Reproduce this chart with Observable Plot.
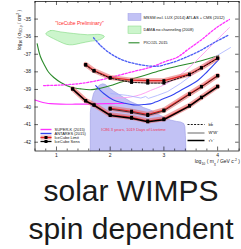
<!DOCTYPE html>
<html><head><meta charset="utf-8">
<script src="https://cdn.jsdelivr.net/npm/d3@7"></script>
<script src="https://cdn.jsdelivr.net/npm/@observablehq/plot@0.6"></script>
<style>
body{margin:0;background:#fff;width:241px;height:249px;overflow:hidden;font-family:"Liberation Sans",Arial,sans-serif}
#chart svg{display:block}
#cap{font-size:30px;line-height:37.7px;color:#1a1a1a;text-align:center;padding-left:21px;width:220px;margin-top:-4px;white-space:nowrap}
</style></head><body><div id="chart"></div><div id="cap">solar WIMPS<br>spin dependent</div>
<script>
// ---- axes ----
const xDomain = [0.6, 4.4];
const yDomain = [-42.5, -34];
const xMajorTicks = [1, 2, 3, 4];
const xMinorTicks = [0.6,0.8,1.2,1.4,1.6,1.8,2.2,2.4,2.6,2.8,3.2,3.4,3.6,3.8,4.2,4.4];
const yTicks = [-42, -41, -40, -39, -38, -37, -36, -35];

// ---- PICO2L 2015 ----
const pico_m = [0.64,0.70,0.78,0.85,0.95,1.08,1.26,1.45,1.63,1.82,2.01,2.19,2.57,2.94,3.31,3.68,4.02];
const pico_s = [-36.40,-37.13,-37.64,-38.01,-38.32,-38.60,-38.86,-38.97,-39.02,-38.93,-38.78,-38.59,-38.26,-37.92,-37.64,-37.38,-37.07];
// ---- DAMA region ----
const dama_m = [0.80,0.89,1.08,1.32,1.58,1.82,1.89,1.80,1.63,1.45,1.30,1.19,1.08,0.95,0.85];
const dama_s = [-35.84,-35.65,-35.73,-35.82,-35.89,-35.88,-35.99,-36.18,-36.26,-36.37,-36.46,-36.44,-36.31,-36.12,-35.96];
// ---- MSSM region ----
const mssm_m = [1.63,1.63,1.65,1.69,1.75,1.80,1.86,1.91,1.99,2.06,2.15,2.27,2.38,2.51,2.62,2.75,2.84,2.94,3.03,3.12,3.24,3.31,3.37,3.39,3.40,3.41];
const mssm_s = [-42.5,-40.31,-39.74,-39.23,-38.92,-38.75,-38.68,-38.72,-38.92,-39.09,-39.26,-39.49,-39.69,-39.86,-40.03,-40.17,-40.31,-40.48,-40.62,-40.74,-40.82,-40.85,-40.94,-41.11,-41.62,-42.5];
// ---- SUPER-K (2015) ----
const sk_tau_m = [0.60,0.70,0.80,0.89,1.08,1.35,1.63,1.91,2.10,2.30];
const sk_tau_s = [-39.60,-39.70,-39.77,-39.81,-39.84,-39.84,-39.83,-39.81,-39.80,-39.80];
const sk_bb_m = [0.76,1.08,1.45,1.82,2.14,2.47,2.75,3.03,3.25,3.46,3.68,3.96,4.22];
const sk_bb_s = [-38.78,-38.75,-38.66,-38.46,-38.21,-37.95,-37.74,-37.41,-37.17,-36.70,-36.22,-35.53,-35.02];
const sk_ww_m = [1.86,2.10,2.38,2.57,2.75,2.94,3.12,3.31,3.50,3.68,3.96,4.22];
const sk_ww_s = [-39.51,-39.49,-39.43,-39.29,-39.06,-38.83,-38.55,-38.15,-37.67,-37.13,-36.27,-35.48];
// ---- ANTARES (2015) ----
const an_bb_m = [1.69,1.82,2.01,2.25,2.57,2.88,3.07,3.18,3.42,3.68,3.94,4.19];
const an_bb_s = [-36.06,-36.50,-36.97,-37.35,-37.60,-37.68,-37.54,-37.45,-37.16,-36.79,-36.33,-35.93];
const an_tau_m = [1.73,1.88,2.06,2.25,2.43,2.62,2.75,2.84,2.99,3.12,3.31,3.63,3.81,4.02];
const an_tau_s = [-38.78,-39.23,-39.60,-39.77,-39.88,-39.86,-39.82,-39.72,-39.53,-39.37,-39.06,-38.49,-37.98,-37.31];
const an_ww_m = [2.01,2.32,2.57,2.66,2.71,2.88,3.07,3.31,3.68,3.96,4.24];
const an_ww_s = [-39.23,-39.34,-39.49,-39.40,-39.51,-39.34,-39.12,-38.66,-37.81,-37.13,-36.62];
// ---- IceCube IC86 3 years ----
const ic_bb_m = [1.544,1.699,2.0,2.398,2.699,3.0,3.477,3.699,4.0];
const ic_bb_lim = [-37.58,-37.92,-38.32,-38.47,-38.50,-38.50,-38.13,-37.76,-37.21];
const ic_bb_sen = [-37.62,-37.96,-38.36,-38.60,-38.64,-38.64,-38.16,-37.78,-37.23];
const ic_ww_m = [2.0,2.398,2.699,3.0,3.477,3.699,4.0];
const ic_ww_lim = [-40.07,-40.24,-40.42,-40.17,-39.25,-38.83,-38.21];
const ic_ww_sen = [-40.12,-40.30,-40.48,-40.22,-39.28,-38.86,-38.23];
const ic_tau_m = [1.301,1.544,1.699,2.0,2.398,2.699,3.0,3.477,3.699,4.0];
const ic_tau_lim = [-38.96,-39.63,-39.87,-40.44,-40.59,-40.79,-40.67,-39.91,-39.44,-38.82];
const ic_tau_sen = [-38.98,-39.66,-39.90,-40.48,-40.64,-40.84,-40.72,-39.95,-39.47,-38.85];

// ---- texts ----
const topLegendLabels = ["MSSM incl. LUX (2014) ATLAS + CMS (2012)", "DAMA no channeling (2008)", "PICO2L 2015"];
const bottomLegendLabels = ["SUPER-K (2015)", "ANTARES (2015)", "IceCube Limit", "IceCube Sens"];
const channelLabels = ["bb\u0304", "W\u207AW\u207B", "\u03C4\u207A\u03C4\u207B"];
const prelimText = "\"IceCube Preliminary\"";
const livetimeText = "IC86 3 years, 1019 Days of Livetime";

// ---- layout (pixels) ----
const W = 241, H = 176, mL = 34.5, mR = 2.4, mT = 1, mB = 25.5;
const px2x = p => xDomain[0] + (p - mL) / (W - mL - mR) * (xDomain[1] - xDomain[0]);
const px2y = p => yDomain[1] - (p - mT) / (H - mT - mB) * (yDomain[1] - yDomain[0]);
const lenX = l => l / (W - mL - mR) * (xDomain[1] - xDomain[0]);
const lenY = l => l / (H - mT - mB) * (yDomain[1] - yDomain[0]);
const zip = (m, s) => m.map((v, i) => ({m: v, s: s[i]}));

const C = {
  mssmFill: "#c2c2f5", mssmStroke: "#9c9ce6", damaFill: "#ccf5cc", damaStroke: "#80d880",
  pico: "#2a8a2a", magenta: "#ff33ff", pink: "#ff99f0", blue: "#3344f0", blueDash: "#4a5cf5", paleBlue: "#a8b0ff",
  band: "#e86a6a", red: "#e02020"
};

const icCurves = [
  {m: ic_bb_m, lim: ic_bb_lim, sen: ic_bb_sen, dash: "2,1.3", w: 0.9},
  {m: ic_ww_m, lim: ic_ww_lim, sen: ic_ww_sen, dash: null, w: 0.7},
  {m: ic_tau_m, lim: ic_tau_lim, sen: ic_tau_sen, dash: null, w: 1.5}
];

const marks = [];
// regions
marks.push(Plot.line(zip(mssm_m, mssm_s), {x: "m", y: "s", fill: C.mssmFill, stroke: C.mssmStroke, strokeWidth: 0.6}));
marks.push(Plot.line(zip(dama_m, dama_s), {x: "m", y: "s", fill: C.damaFill, stroke: C.damaStroke, strokeWidth: 0.6, curve: "catmull-rom-closed"}));
// other experiments
marks.push(Plot.line(zip(pico_m, pico_s), {x: "m", y: "s", stroke: C.pico, strokeWidth: 1.1, curve: "catmull-rom"}));
marks.push(Plot.line(zip(sk_tau_m, sk_tau_s), {x: "m", y: "s", stroke: C.magenta, strokeWidth: 1.2, curve: "catmull-rom"}));
marks.push(Plot.line(zip(sk_ww_m, sk_ww_s), {x: "m", y: "s", stroke: C.pink, strokeWidth: 0.9, curve: "catmull-rom"}));
marks.push(Plot.line(zip(sk_bb_m, sk_bb_s), {x: "m", y: "s", stroke: C.magenta, strokeWidth: 1.3, strokeDasharray: "2,1.6", curve: "catmull-rom"}));
marks.push(Plot.line(zip(an_ww_m, an_ww_s), {x: "m", y: "s", stroke: C.paleBlue, strokeWidth: 0.8}));
marks.push(Plot.line(zip(an_tau_m, an_tau_s), {x: "m", y: "s", stroke: C.blue, strokeWidth: 1.1, curve: "catmull-rom"}));
marks.push(Plot.line(zip(an_bb_m, an_bb_s), {x: "m", y: "s", stroke: C.blueDash, strokeWidth: 1.3, strokeDasharray: "2,1.6", curve: "catmull-rom"}));
// IceCube
for (const c of icCurves) marks.push(Plot.line(zip(c.m, c.lim), {x: "m", y: "s", stroke: C.band, strokeOpacity: 0.6, strokeWidth: 5}));
for (const c of icCurves) marks.push(Plot.line(zip(c.m, c.lim), {x: "m", y: "s", stroke: C.red, strokeWidth: 1.1}));
for (const c of icCurves) marks.push(Plot.line(zip(c.m, c.sen), {x: "m", y: "s", stroke: "#000", strokeWidth: c.w, strokeDasharray: c.dash}));
for (const c of icCurves) {
  marks.push(Plot.dot(zip(c.m, c.lim), {x: "m", y: "s", symbol: "square", r: 1.7, fill: "#000"}));
  marks.push(Plot.dot(zip(c.m, c.sen), {x: "m", y: "s", symbol: "square", r: 1.7, fill: "#000"}));
}
// annotations
marks.push(Plot.text([prelimText], {x: px2x(79), y: px2y(22.7), text: d => d, fill: "#ff2a2a", fontSize: 5, textAnchor: "middle"}));
marks.push(Plot.text([livetimeText], {x: px2x(133), y: px2y(129), text: d => d, fill: "#ee3355", fontSize: 4, textAnchor: "middle"}));

// top-right legend
const tlY = [17, 29.7, 42.3];
marks.push(Plot.rect([0], {x1: px2x(128), x2: px2x(141), y1: px2y(20.5), y2: px2y(13.5), fill: C.mssmFill, stroke: C.mssmStroke, strokeWidth: 0.5}));
marks.push(Plot.rect([0], {x1: px2x(128), x2: px2x(141), y1: px2y(33.3), y2: px2y(26), fill: C.damaFill, stroke: C.damaStroke, strokeWidth: 0.5}));
marks.push(Plot.link([0], {x1: px2x(128), x2: px2x(139), y1: px2y(42.3), y2: px2y(42.3), stroke: C.pico, strokeWidth: 1.1}));
marks.push(Plot.text(topLegendLabels, {x: px2x(143), y: (d, i) => px2y(tlY[i]), text: d => d, fontSize: 4, textAnchor: "start", fill: "#111"}));

// bottom-left legend
const blY = [129, 133, 137, 141];
marks.push(Plot.link([0], {x1: px2x(40), x2: px2x(51), y1: px2y(blY[0]), y2: px2y(blY[0]), stroke: C.magenta, strokeWidth: 1.4}));
marks.push(Plot.link([0], {x1: px2x(40), x2: px2x(51), y1: px2y(blY[1]), y2: px2y(blY[1]), stroke: C.blue, strokeWidth: 1.4}));
marks.push(Plot.link([0], {x1: px2x(40), x2: px2x(51), y1: px2y(blY[2]), y2: px2y(blY[2]), stroke: C.band, strokeOpacity: 0.6, strokeWidth: 4}));
marks.push(Plot.link([0], {x1: px2x(40), x2: px2x(51), y1: px2y(blY[2]), y2: px2y(blY[2]), stroke: C.red, strokeWidth: 1.1}));
marks.push(Plot.link([0], {x1: px2x(40), x2: px2x(51), y1: px2y(blY[3]), y2: px2y(blY[3]), stroke: "#000", strokeWidth: 1.3}));
marks.push(Plot.dot([2, 3], {x: px2x(45.5), y: i => px2y(blY[i]), symbol: "square", r: 1.7, fill: "#000"}));
marks.push(Plot.text(bottomLegendLabels, {x: px2x(54), y: (d, i) => px2y(blY[i]), text: d => d, fontSize: 4, textAnchor: "start", fill: "#111"}));

// channel legend
const chY = [124, 132.5, 140];
const chStyle = [{w: 0.9, dash: "2,1.3"}, {w: 0.6, dash: null}, {w: 1.5, dash: null}];
chY.forEach((yy, i) => marks.push(Plot.link([0], {x1: px2x(187), x2: px2x(204), y1: px2y(yy), y2: px2y(yy), stroke: "#000", strokeWidth: chStyle[i].w, strokeDasharray: chStyle[i].dash})));
marks.push(Plot.text(channelLabels, {x: px2x(208), y: (d, i) => px2y(chY[i]), text: d => d, fontSize: 4, textAnchor: "start", fill: "#111"}));

// inward ticks (all four sides)
marks.push(Plot.ruleX(xMajorTicks, {y1: yDomain[0], y2: yDomain[0] + lenY(4), stroke: "#000", strokeWidth: 0.6}));
marks.push(Plot.ruleX(xMinorTicks, {y1: yDomain[0], y2: yDomain[0] + lenY(2), stroke: "#000", strokeWidth: 0.6}));
marks.push(Plot.ruleX(xMajorTicks, {y1: yDomain[1], y2: yDomain[1] - lenY(4), stroke: "#000", strokeWidth: 0.6}));
marks.push(Plot.ruleX(xMinorTicks, {y1: yDomain[1], y2: yDomain[1] - lenY(2), stroke: "#000", strokeWidth: 0.6}));
marks.push(Plot.ruleY(yTicks, {x1: xDomain[0], x2: xDomain[0] + lenX(3.5), stroke: "#000", strokeWidth: 0.6}));
marks.push(Plot.ruleY(yTicks, {x1: xDomain[1], x2: xDomain[1] - lenX(3.5), stroke: "#000", strokeWidth: 0.6}));
marks.push(Plot.frame({stroke: "#000", strokeWidth: 0.7}));

const svg = Plot.plot({
  width: W, height: H, marginLeft: mL, marginRight: mR, marginTop: mT, marginBottom: mB,
  style: {fontFamily: "'Liberation Sans', Arial, sans-serif", fontSize: "5px", color: "#222", background: "white"},
  x: {domain: xDomain, ticks: xMajorTicks, tickSize: 0, tickPadding: 2, tickFormat: d => String(d), label: null},
  y: {domain: yDomain, ticks: yTicks, tickSize: 0, tickPadding: 4, tickFormat: d => String(d), label: null},
  marks
});
document.getElementById("chart").append(svg);

// axis titles with sub/superscripts
function richText(parts, x, y, anchor, rotate, size) {
  const t = d3.select(svg).append("text")
    .attr("transform", `translate(${x},${y}) rotate(${rotate})`)
    .attr("text-anchor", anchor).attr("font-size", size).attr("fill", "#222")
    .attr("font-family", "'Liberation Sans', Arial, sans-serif");
  let shift = 0;
  for (const [s, kind] of parts) {
    const target = kind === "sub" ? size * 0.3 : kind === "sup" ? -size * 0.4 : 0;
    t.append("tspan").attr("dy", target - shift).attr("font-size", kind ? size * 0.7 : size).text(s);
    shift = target;
  }
}
const yTitle = [["log"], ["10", "sub"], [" ( \u03C3"], ["SD,p", "sub"], [" / cm"], ["2", "sup"], [" )"]];
const xTitle = [["log"], ["10", "sub"], [" ( m"], ["\u03C7", "sub"], [" / GeV c"], ["-2", "sup"], [" )"]];
richText(yTitle, 20.5, 10, "end", -90, 4.8);
richText(xTitle, 240, 163, "end", 0, 5);
</script></body></html>
